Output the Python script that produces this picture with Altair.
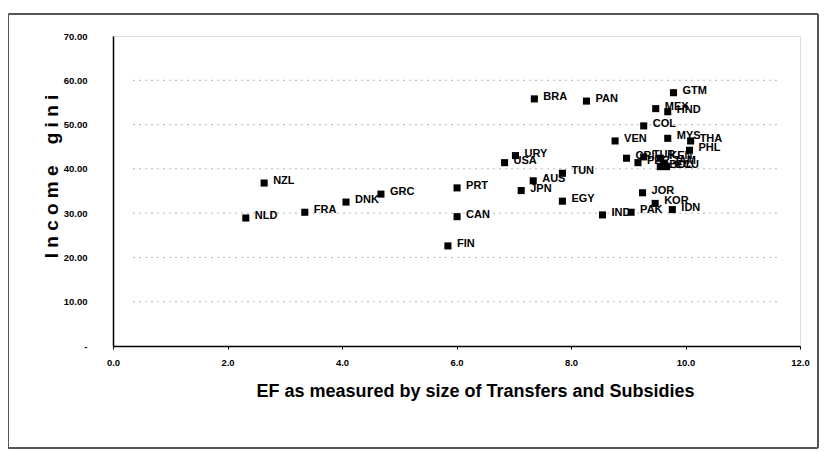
import altair as alt
import pandas as pd

countries = ["NLD", "FRA", "DNK", "GRC", "NZL", "FIN", "CAN", "PRT", "JPN", "AUS",
             "USA", "URY", "TUN", "EGY", "BRA", "PAN", "GTM", "MEX", "HND", "COL",
             "MYS", "VEN", "THA", "PHL", "CRI", "PER", "TUR", "KEN", "JAM", "BOL",
             "ECU", "JOR", "KOR", "IDN", "PAK", "IND"]
ef_transfers = [2.32, 3.35, 4.07, 4.68, 2.64, 5.85, 6.01, 6.01, 7.13, 7.34,
                6.84, 7.03, 7.85, 7.85, 7.36, 8.27, 9.79, 9.48, 9.69, 9.27,
                9.69, 8.77, 10.09, 10.07, 8.97, 9.17, 9.27, 9.56, 9.62, 9.56,
                9.67, 9.25, 9.47, 9.77, 9.05, 8.55]
income_gini = [28.9, 30.2, 32.5, 34.3, 36.8, 22.6, 29.2, 35.7, 35.1, 37.3,
               41.4, 43.0, 39.0, 32.7, 55.8, 55.3, 57.2, 53.6, 52.9, 49.7,
               46.9, 46.3, 46.3, 44.2, 42.4, 41.4, 42.7, 42.4, 41.3, 40.5,
               40.5, 34.6, 32.2, 30.8, 30.2, 29.6]

x_ticks = [0, 2, 4, 6, 8, 10, 12]
y_ticks = [0, 10, 20, 30, 40, 50, 60, 70]
grid_levels = [10, 20, 30, 40, 50, 60]

df = pd.DataFrame({"country": countries, "ef": ef_transfers, "gini": income_gini})
grid_df = pd.DataFrame({"g": grid_levels})

W, H = 687, 310
FONT = "Liberation Sans"
NB = "\u00a0"
y_title = NB.join(list("Income")) + NB * 4 + NB.join(list("gini"))

xscale = alt.Scale(domain=[0, 12], nice=False, zero=False)
yscale = alt.Scale(domain=[0, 70], nice=False)

grid = alt.Chart(grid_df).mark_rule(
    color="#b5b5b5", strokeWidth=1, strokeDash=[2, 4]
).encode(
    y=alt.Y("g:Q", scale=yscale),
    x=alt.value(20), x2=alt.value(W - 20),
)

points = alt.Chart(df).mark_point(
    shape="square", filled=True, color="black", size=50, opacity=1
).encode(
    x=alt.X("ef:Q", scale=xscale,
            axis=alt.Axis(values=x_ticks, format=".1f", grid=False,
                          title="EF as measured by size of Transfers and Subsidies",
                          titleFont=FONT, titleFontSize=18, titleFontWeight="bold",
                          titleColor="black", titleX=362, titleY=45,
                          titleAnchor="middle", titleAlign="center", titleBaseline="middle",
                          labelFont=FONT, labelFontSize=9.5, labelFontWeight="bold",
                          labelColor="black", labelPadding=8, tickSize=3,
                          tickColor="black", domainColor="black", domainWidth=1.5,
                          labelFlush=False)),
    y=alt.Y("gini:Q", scale=yscale,
            axis=alt.Axis(values=y_ticks, grid=False,
                          labelExpr="datum.value == 0 ? '-' : format(datum.value, '.2f')",
                          title=y_title,
                          titleFont=FONT, titleFontSize=19, titleFontWeight="bold",
                          titleColor="black", titleX=-62, titleY=140, titleAngle=270,
                          titleAlign="center", titleBaseline="middle",
                          labelFont=FONT, labelFontSize=9.5, labelFontWeight="bold",
                          labelColor="black", labelPadding=26, ticks=False,
                          domainColor="black", domainWidth=1.5)),
)

labels = alt.Chart(df).mark_text(
    align="left", baseline="middle", dx=9, dy=-2,
    font=FONT, fontSize=11, fontWeight="bold", color="black"
).encode(
    x=alt.X("ef:Q", scale=xscale),
    y=alt.Y("gini:Q", scale=yscale),
    text="country:N",
)

frame = alt.Chart(grid_df).mark_rect(
    fill=None, stroke="#555555", strokeWidth=1, clip=False
).encode(
    x=alt.value(-104.5), x2=alt.value(W + 18),
    y=alt.value(-22), y2=alt.value(H + 102),
)

chart = alt.layer(frame, grid, points, labels).properties(
    width=W, height=H,
    autosize=alt.AutoSizeParams(type="none"),
    padding={"left": 105, "top": 28, "right": 19, "bottom": 104},
).configure_view(
    stroke="black", strokeWidth=1
).configure(background="white")

chart.save("out.html", embed_options={"renderer": "svg", "actions": False})
